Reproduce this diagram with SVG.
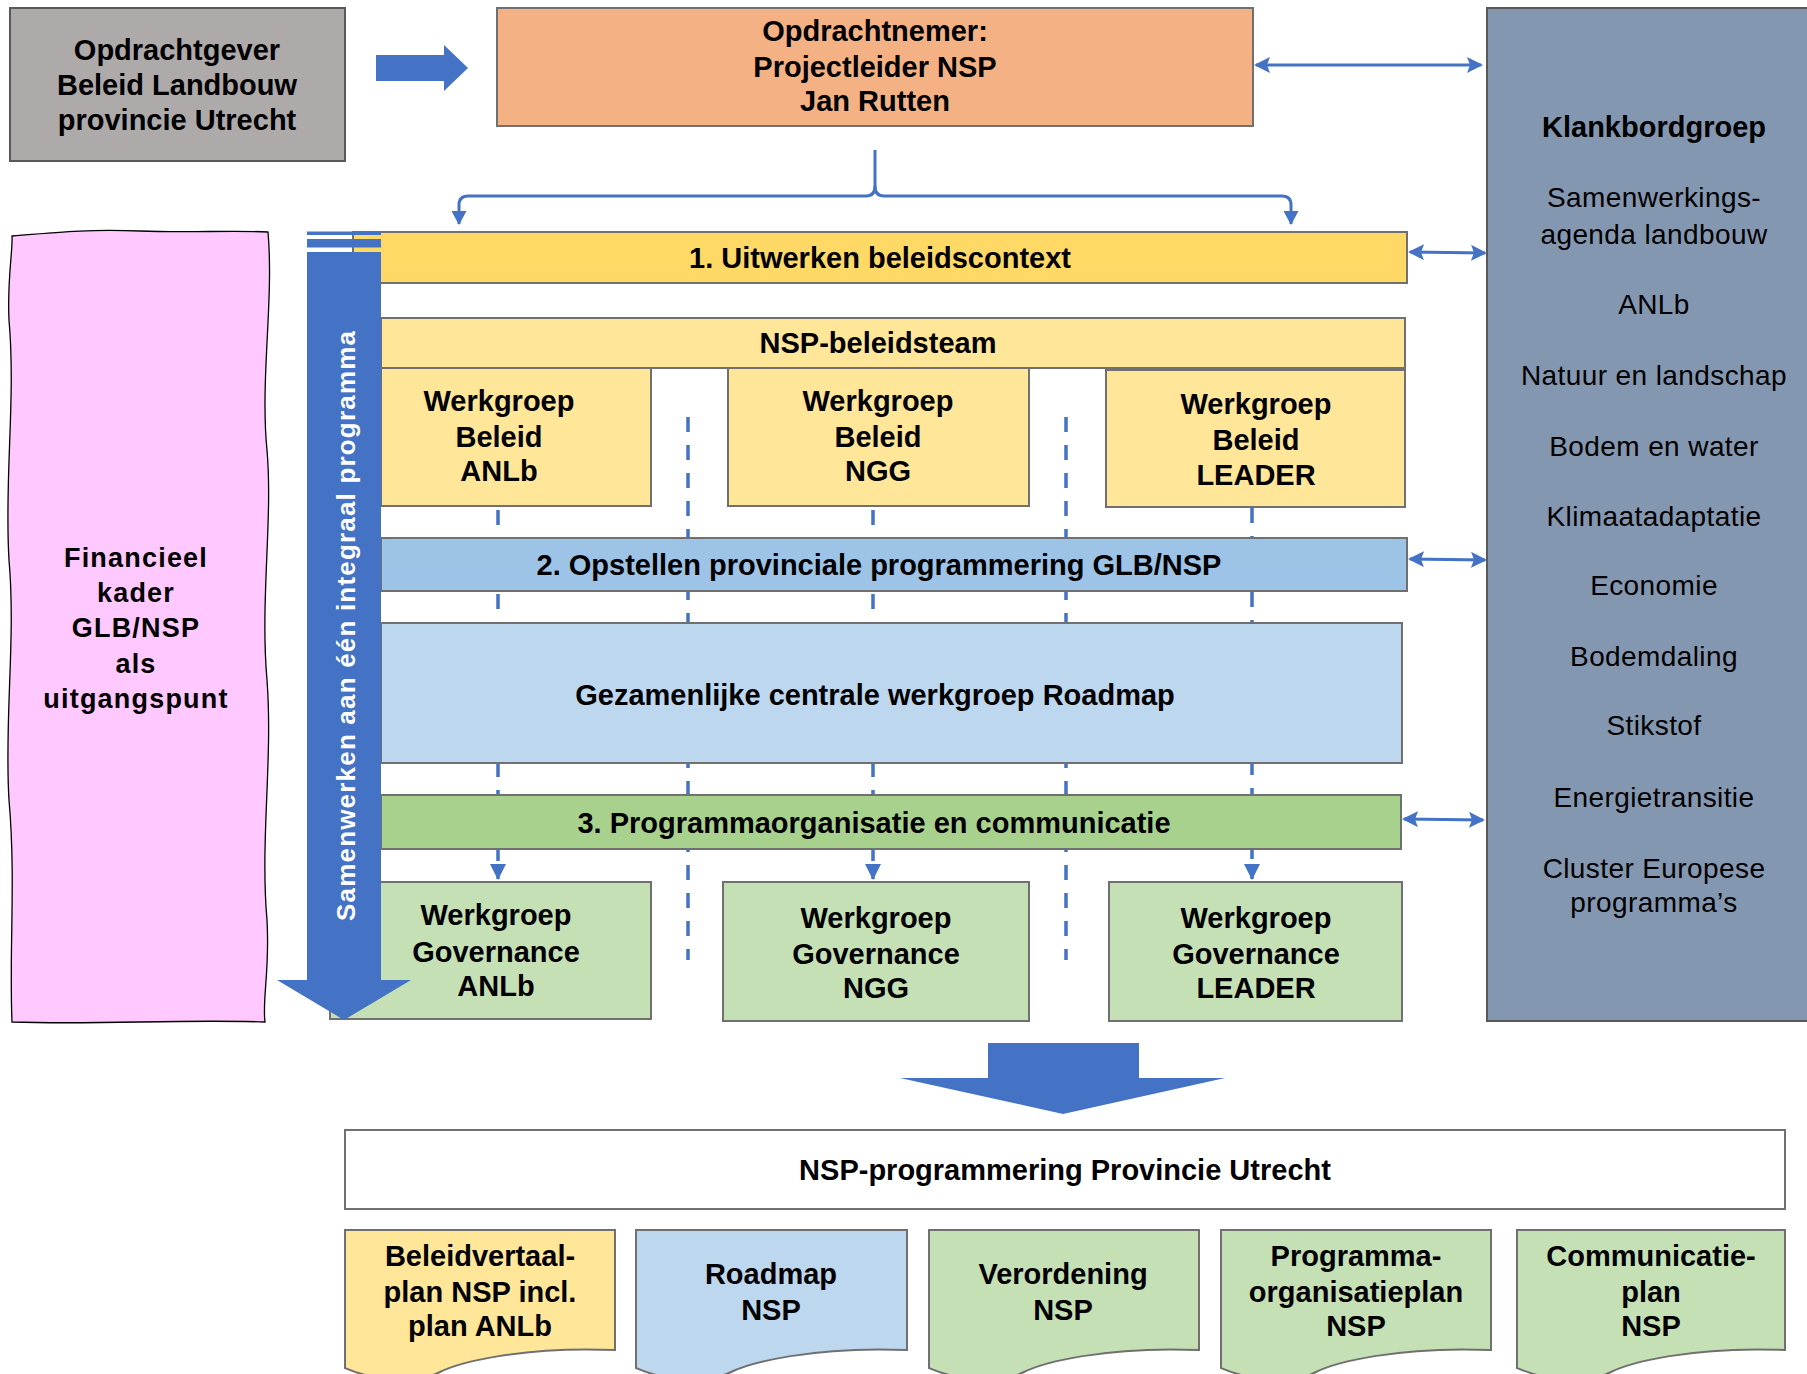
<svg xmlns="http://www.w3.org/2000/svg" width="1807" height="1374" viewBox="0 0 1807 1374">
<style>
text{font-family:"Liberation Sans",Arial,sans-serif;fill:#000;text-anchor:middle}
.b{font-weight:bold;font-size:29px}
.r{font-size:28px;letter-spacing:0.4px}
.box{stroke:#707070;stroke-width:2}
.dash{fill:none;stroke:#4472C4;stroke-width:3.5;stroke-dasharray:15 13}
.dbl{fill:none;stroke:#4472C4;stroke-width:3.2}
.brk{fill:none;stroke:#4472C4;stroke-width:3}
</style>
<defs>
<marker id="mDbl" viewBox="0 0 16 16" refX="14" refY="8" markerWidth="16" markerHeight="16" markerUnits="userSpaceOnUse" orient="auto-start-reverse">
<path d="M0,0 L16,8 L0,16 L3,8 z" fill="#4472C4"/>
</marker>
<marker id="mDown" viewBox="0 0 14 15" refX="13" refY="7.5" markerWidth="14" markerHeight="15" markerUnits="userSpaceOnUse" orient="auto">
<path d="M0,0 L14,7.5 L0,15 z" fill="#4472C4"/>
</marker>
<marker id="mDash" viewBox="0 0 16 16" refX="15" refY="8" markerWidth="16" markerHeight="16" markerUnits="userSpaceOnUse" orient="auto">
<path d="M0,0 L16,8 L0,16 z" fill="#4472C4"/>
</marker>
</defs>
<rect width="1807" height="1374" fill="#fff"/>

<g id="connectors">
<line class="dash" x1="498" y1="370" x2="498" y2="879" marker-end="url(#mDash)"/>
<line class="dash" x1="688" y1="417" x2="688" y2="960"/>
<line class="dash" x1="873" y1="370" x2="873" y2="879" marker-end="url(#mDash)"/>
<line class="dash" x1="1066" y1="417" x2="1066" y2="960"/>
<line class="dash" x1="1252" y1="368" x2="1252" y2="879" marker-end="url(#mDash)"/>
<line class="dbl" x1="1256" y1="65" x2="1481" y2="65" marker-start="url(#mDbl)" marker-end="url(#mDbl)"/>
<line class="dbl" x1="1410" y1="252" x2="1485" y2="253" marker-start="url(#mDbl)" marker-end="url(#mDbl)"/>
<line class="dbl" x1="1410" y1="559" x2="1485" y2="560" marker-start="url(#mDbl)" marker-end="url(#mDbl)"/>
<line class="dbl" x1="1404" y1="819" x2="1483" y2="820" marker-start="url(#mDbl)" marker-end="url(#mDbl)"/>
<path class="brk" d="M875,150 L875,186 Q875,196 866,196 L468,196 Q459,196 459,205 L459,224" marker-end="url(#mDown)"/>
<path class="brk" d="M875,186 Q875,196 884,196 L1282,196 Q1291,196 1291,205 L1291,224" marker-end="url(#mDown)"/>
<polygon points="376,55 444,55 444,45 468,68 444,91 444,81 376,81" fill="#4472C4"/>
<polygon points="988,1043 1139,1043 1139,1078 1225,1078 1063,1114 900,1078 988,1078" fill="#4472C4"/>
</g>

<g id="opdrachtgever">
<rect x="10" y="8" width="335" height="153" fill="#AEAAAA" stroke="#595959" stroke-width="2"/>
<text class="b" x="177" y="60">Opdrachtgever</text>
<text class="b" x="177" y="95">Beleid Landbouw</text>
<text class="b" x="177" y="130">provincie Utrecht</text>
</g>

<g id="opdrachtnemer">
<rect class="box" x="497" y="8" width="756" height="118" fill="#F4B183"/>
<text class="b" x="875" y="41">Opdrachtnemer:</text>
<text class="b" x="875" y="77">Projectleider NSP</text>
<text class="b" x="875" y="111">Jan Rutten</text>
</g>

<g id="klankbordgroep">
<rect x="1487" y="8" width="330" height="1013" fill="#8497B0" stroke="#595959" stroke-width="2"/>
<text class="b" x="1654" y="137">Klankbordgroep</text>
<text class="r" x="1654" y="207">Samenwerkings-</text>
<text class="r" x="1654" y="244">agenda landbouw</text>
<text class="r" x="1654" y="314">ANLb</text>
<text class="r" x="1654" y="385">Natuur en landschap</text>
<text class="r" x="1654" y="456">Bodem en water</text>
<text class="r" x="1654" y="526">Klimaatadaptatie</text>
<text class="r" x="1654" y="595">Economie</text>
<text class="r" x="1654" y="666">Bodemdaling</text>
<text class="r" x="1654" y="735">Stikstof</text>
<text class="r" x="1654" y="807">Energietransitie</text>
<text class="r" x="1654" y="878">Cluster Europese</text>
<text class="r" x="1654" y="912">programma’s</text>
</g>

<g id="financieel">
<path d="M12,236 C60,232 90,229 140,231 C190,233 230,230 268,232 C274,300 260,380 267,450 C273,520 260,600 267,680 C273,760 260,840 267,920 C270,970 262,1000 265,1022 C180,1019 100,1025 12,1022 C9,950 16,880 9,800 C4,720 16,640 9,560 C4,480 16,400 9,320 C7,280 13,250 12,236 Z" fill="#FFC9FF" stroke="#000" stroke-width="1.3"/>
<text class="b" x="136" y="567" style="font-size:27px;letter-spacing:1.2px">Financieel</text>
<text class="b" x="136" y="602" style="font-size:27px;letter-spacing:1.2px">kader</text>
<text class="b" x="136" y="637" style="font-size:27px;letter-spacing:1.2px">GLB/NSP</text>
<text class="b" x="136" y="673" style="font-size:27px;letter-spacing:1.2px">als</text>
<text class="b" x="136" y="708" style="font-size:27px;letter-spacing:1.2px">uitgangspunt</text>
</g>

<g id="stap1">
<rect class="box" x="353" y="232" width="1054" height="51" fill="#FFD966"/>
<text class="b" x="880" y="268">1. Uitwerken beleidscontext</text>
</g>

<g id="beleidsteam">
<rect class="box" x="381" y="318" width="1024" height="50" fill="#FFE699"/>
<text class="b" x="878" y="353">NSP-beleidsteam</text>
</g>

<g id="beleid-anlb">
<rect class="box" x="381" y="368" width="270" height="138" fill="#FFE699"/>
<text class="b" x="499" y="411">Werkgroep</text>
<text class="b" x="499" y="447">Beleid</text>
<text class="b" x="499" y="481">ANLb</text>
</g>

<g id="beleid-ngg">
<rect class="box" x="728" y="368" width="301" height="138" fill="#FFE699"/>
<text class="b" x="878" y="411">Werkgroep</text>
<text class="b" x="878" y="447">Beleid</text>
<text class="b" x="878" y="481">NGG</text>
</g>

<g id="beleid-leader">
<rect class="box" x="1106" y="370" width="299" height="137" fill="#FFE699"/>
<text class="b" x="1256" y="414">Werkgroep</text>
<text class="b" x="1256" y="450">Beleid</text>
<text class="b" x="1256" y="485">LEADER</text>
</g>

<g id="stap2">
<rect class="box" x="381" y="538" width="1026" height="53" fill="#9DC3E6"/>
<text class="b" x="879" y="575">2. Opstellen provinciale programmering GLB/NSP</text>
</g>

<g id="roadmap-werkgroep">
<rect class="box" x="381" y="623" width="1021" height="140" fill="#BDD7EE"/>
<text class="b" x="875" y="705">Gezamenlijke centrale werkgroep Roadmap</text>
</g>

<g id="stap3">
<rect class="box" x="381" y="795" width="1020" height="54" fill="#A9D18E"/>
<text class="b" x="874" y="833">3. Programmaorganisatie en communicatie</text>
</g>

<g id="gov-anlb">
<rect class="box" x="330" y="882" width="321" height="137" fill="#C5E0B4"/>
<text class="b" x="496" y="925">Werkgroep</text>
<text class="b" x="496" y="962">Governance</text>
<text class="b" x="496" y="996">ANLb</text>
</g>

<g id="gov-ngg">
<rect class="box" x="723" y="882" width="306" height="139" fill="#C5E0B4"/>
<text class="b" x="876" y="928">Werkgroep</text>
<text class="b" x="876" y="964">Governance</text>
<text class="b" x="876" y="998">NGG</text>
</g>

<g id="gov-leader">
<rect class="box" x="1109" y="882" width="293" height="139" fill="#C5E0B4"/>
<text class="b" x="1256" y="928">Werkgroep</text>
<text class="b" x="1256" y="964">Governance</text>
<text class="b" x="1256" y="998">LEADER</text>
</g>

<g id="samenwerken-pijl">
<polygon points="307,252 381,252 381,980 411,980 344,1020 277,980 307,980" fill="#4472C4"/>
<rect x="307" y="231.5" width="74" height="3.5" fill="#4472C4"/>
<rect x="307" y="239" width="74" height="8.5" fill="#4472C4"/>
<text transform="translate(355,626) rotate(-90)" style="font-size:26px;font-weight:bold;fill:#fff" textLength="590" lengthAdjust="spacing">Samenwerken aan één integraal programma</text>
</g>

<g id="nsp-programmering">
<rect class="box" x="345" y="1130" width="1440" height="79" fill="#fff"/>
<text class="b" x="1065" y="1180">NSP-programmering Provincie Utrecht</text>
</g>

<g id="doc-beleidvertaalplan">
<path class="box" d="M345,1230 H615 V1350 C520,1346 458,1363 440,1372 C400,1392 350,1370 345,1368 Z" fill="#FFE699"/>
<text class="b" x="480" y="1266">Beleidvertaal-</text>
<text class="b" x="480" y="1302">plan NSP incl.</text>
<text class="b" x="480" y="1336">plan ANLb</text>
</g>

<g id="doc-roadmap">
<path class="box" d="M636,1230 H907 V1350 C812,1346 750,1363 731,1372 C690,1392 641,1370 636,1368 Z" fill="#BDD7EE"/>
<text class="b" x="771" y="1284">Roadmap</text>
<text class="b" x="771" y="1320">NSP</text>
</g>

<g id="doc-verordening">
<path class="box" d="M929,1230 H1199 V1350 C1104,1346 1042,1363 1024,1372 C984,1392 934,1370 929,1368 Z" fill="#C5E0B4"/>
<text class="b" x="1063" y="1284">Verordening</text>
<text class="b" x="1063" y="1320">NSP</text>
</g>

<g id="doc-programmaorganisatieplan">
<path class="box" d="M1221,1230 H1491 V1350 C1396,1346 1334,1363 1316,1372 C1276,1392 1226,1370 1221,1368 Z" fill="#C5E0B4"/>
<text class="b" x="1356" y="1266">Programma-</text>
<text class="b" x="1356" y="1302">organisatieplan</text>
<text class="b" x="1356" y="1336">NSP</text>
</g>

<g id="doc-communicatieplan">
<path class="box" d="M1517,1230 H1785 V1350 C1691,1346 1629,1363 1611,1372 C1571,1392 1522,1370 1517,1368 Z" fill="#C5E0B4"/>
<text class="b" x="1651" y="1266">Communicatie-</text>
<text class="b" x="1651" y="1302">plan</text>
<text class="b" x="1651" y="1336">NSP</text>
</g>
</svg>
